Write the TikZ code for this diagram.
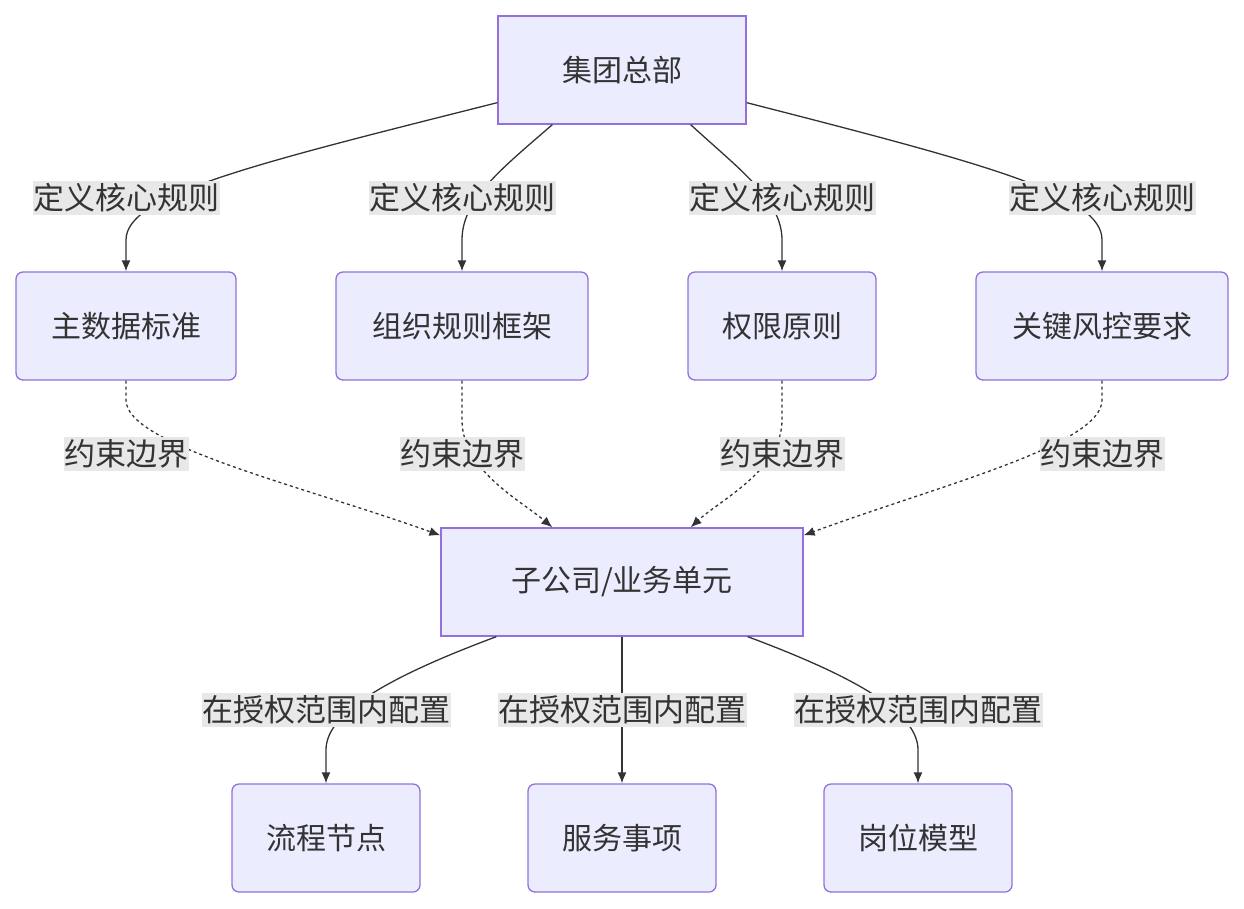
\documentclass[tikz,border=0pt]{standalone}
\usepackage{fontspec}
\setmainfont{Noto Sans CJK SC}
\usetikzlibrary{arrows.meta}
\definecolor{nfill}{HTML}{ECECFF}
\definecolor{nline}{HTML}{9370DB}
\definecolor{lbg}{HTML}{E8E8E8}
\definecolor{ink}{HTML}{333333}
\begin{document}
\begin{tikzpicture}[x=1pt,y=-1pt,
  box/.style={draw=nline,fill=nfill,line width=1.3pt,minimum height=108pt,font=\fontsize{30}{34}\selectfont,text=ink,inner sep=0pt},
  rbox/.style={box,rounded corners=7pt},
  lab/.style={fill=lbg,font=\fontsize{31}{35}\selectfont,text=ink,inner xsep=0.5pt,inner ysep=3pt},
  edge/.style={draw=ink,line width=1.3pt,-{Latex[length=11pt,width=9pt]}},
  dedge/.style={edge,dash pattern=on 3pt off 3pt}]
\useasboundingbox (0,0) rectangle (1244,908);
\node[box,minimum width=248pt] (hq) at (622,70) {集团总部};
\node[rbox,minimum width=220pt] (a1) at (126,326) {主数据标准};
\node[rbox,minimum width=252pt] (a2) at (462,326) {组织规则框架};
\node[rbox,minimum width=188pt] (a3) at (782,326) {权限原则};
\node[rbox,minimum width=252pt] (a4) at (1102,326) {关键风控要求};
\node[box,minimum width=362pt] (sub) at (622,582) {子公司/业务单元};
\node[rbox,minimum width=188pt] (b1) at (326,838) {流程节点};
\node[rbox,minimum width=188pt] (b2) at (622,838) {服务事项};
\node[rbox,minimum width=188pt] (b3) at (918,838) {岗位模型};
% top edges
\draw[edge] ([yshift=22pt]hq.south west) .. controls (250,165) and (126,195) .. (126,240) -- (a1.north);
\draw[edge] ([xshift=55pt]hq.south west) .. controls (500,170) and (462,200) .. (462,240) -- (a2.north);
\draw[edge] ([xshift=-56pt]hq.south east) .. controls (740,170) and (782,200) .. (782,240) -- (a3.north);
\draw[edge] ([yshift=22pt]hq.south east) .. controls (990,165) and (1102,195) .. (1102,240) -- (a4.north);
% dashed
\draw[dedge] (a1.south) -- (126,400) .. controls (126,445) and (300,485) .. ([yshift=-8pt]sub.north west);
\draw[dedge] (a2.south) -- (462,420) .. controls (462,470) and (520,500) .. ([xshift=112pt]sub.north west);
\draw[dedge] (a3.south) -- (782,420) .. controls (782,470) and (720,500) .. ([xshift=-113pt]sub.north east);
\draw[dedge] (a4.south) -- (1102,400) .. controls (1102,445) and (940,485) .. ([yshift=-8pt]sub.north east);
% bottom
\draw[edge] ([xshift=56pt]sub.south west) .. controls (380,680) and (326,715) .. (326,750) -- (b1.north);
\draw[edge] (sub.south) -- (b2.north);
\draw[edge] ([xshift=-56pt]sub.south east) .. controls (864,680) and (918,715) .. (918,750) -- (b3.north);
% labels
\foreach \x/\n in {126/l1,462/l2,782/l3,1102/l4}{
  \node[lab] (\n) at (\x,198) {定义核心规则};
  \node[lab] (\n d) at (\x,454) {约束边界};}
\foreach \x/\n in {326/m1,622/m2,918/m3}{
  \node[lab] (\n) at (\x,710) {在授权范围内配置};}
\end{tikzpicture}
\end{document}
